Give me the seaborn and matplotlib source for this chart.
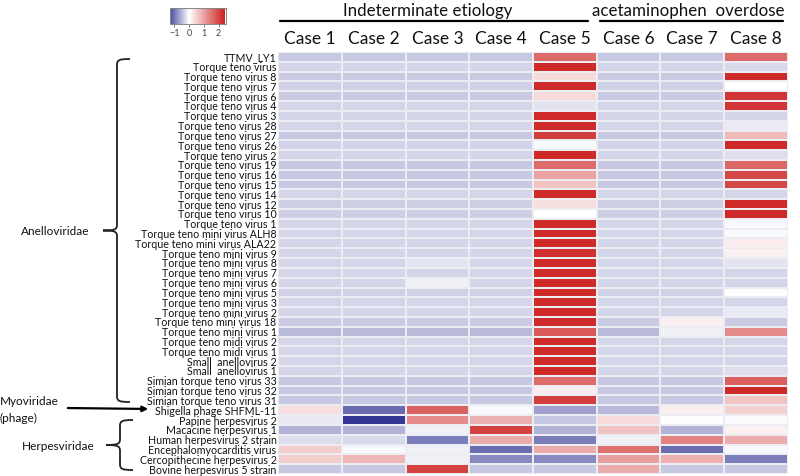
import numpy as np
import pandas as pd
import matplotlib
matplotlib.use('Agg')
import matplotlib.pyplot as plt
from matplotlib.colors import LinearSegmentedColormap
from matplotlib.path import Path
from matplotlib.patches import PathPatch
import seaborn as sns

sns.set_theme(style='white')
plt.rcParams['font.family'] = ['Lato', 'DejaVu Sans']

viruses = [
    'TTMV_LY1', 'Torque teno virus', 'Torque teno virus 8', 'Torque teno virus 7',
    'Torque teno virus 6', 'Torque teno virus 4', 'Torque teno virus 3',
    'Torque teno virus 28', 'Torque teno virus 27', 'Torque teno virus 26',
    'Torque teno virus 2', 'Torque teno virus 19', 'Torque teno virus 16',
    'Torque teno virus 15', 'Torque teno virus 14', 'Torque teno virus 12',
    'Torque teno virus 10', 'Torque teno virus 1', 'Torque teno mini virus ALH8',
    'Torque teno mini virus ALA22', 'Torque teno mini virus 9',
    'Torque teno mini virus 8', 'Torque teno mini virus 7', 'Torque teno mini virus 6',
    'Torque teno mini virus 5', 'Torque teno mini virus 3', 'Torque teno mini virus 2',
    'Torque teno mini virus 18', 'Torque teno mini virus 1', 'Torque teno midi virus 2',
    'Torque teno midi virus 1', 'Small  anellovirus 2', 'Small  anellovirus 1',
    'Simian torque teno virus 33', 'Simian torque teno virus 32',
    'Simian torque teno virus 31', 'Shigella phage SHFML-11', 'Papine herpesvirus 2',
    'Macacine herpesvirus 1', 'Human herpesvirus 2 strain',
    'Encephalomyocarditis virus', 'Cercopithecine herpesvirus 2',
    'Bovine herpesvirus 5 strain',
]
cases = ['Case 1', 'Case 2', 'Case 3', 'Case 4', 'Case 5', 'Case 6', 'Case 7', 'Case 8']

case1 = [-0.4, -0.3, -0.38, -0.33, -0.38, -0.3, -0.3, -0.3, -0.4, -0.32, -0.3, -0.4,
         -0.4, -0.4, -0.3, -0.35, -0.35, -0.3, -0.3, -0.3, -0.3, -0.3, -0.3, -0.3,
         -0.33, -0.3, -0.3, -0.38, -0.5, -0.3, -0.3, -0.3, -0.3, -0.4, -0.4, -0.4,
         0.35, -0.15, -0.55, -0.25, 0.55, 0.55, -0.4]
case2 = [-0.4, -0.3, -0.38, -0.33, -0.38, -0.3, -0.3, -0.3, -0.4, -0.32, -0.3, -0.4,
         -0.4, -0.4, -0.3, -0.35, -0.35, -0.3, -0.3, -0.3, -0.3, -0.3, -0.3, -0.3,
         -0.33, -0.3, -0.3, -0.38, -0.5, -0.3, -0.3, -0.3, -0.3, -0.4, -0.4, -0.4,
         -1.07, -1.45, -0.55, -0.28, -0.05, 0.8, -0.4]
case3 = [-0.4, -0.3, -0.38, -0.33, -0.38, -0.3, -0.3, -0.3, -0.4, -0.32, -0.3, -0.4,
         -0.4, -0.4, -0.3, -0.35, -0.35, -0.3, -0.3, -0.3, -0.3, -0.2, -0.3, -0.1,
         -0.33, -0.3, -0.3, -0.38, -0.5, -0.3, -0.3, -0.3, -0.3, -0.4, -0.4, -0.4,
         1.7, 1.25, -0.1, -0.95, -0.1, -0.1, 2.05]
case4 = [-0.4, -0.3, -0.38, -0.33, -0.38, -0.3, -0.3, -0.3, -0.4, -0.32, -0.3, -0.4,
         -0.4, -0.4, -0.3, -0.35, -0.35, -0.3, -0.3, -0.3, -0.3, -0.3, -0.3, -0.3,
         -0.33, -0.3, -0.3, -0.38, -0.5, -0.3, -0.3, -0.3, -0.3, -0.4, -0.4, -0.4,
         -0.05, 0.85, 2.05, 0.9, -1.05, -0.85, -0.4]
case5 = [1.6, 2.3, 0.4, 2.3, 0.4, -0.2, 2.3, 2.3, 2.1, -0.05, 2.3, 1.6,
         1.0, 0.65, 2.3, 0.35, 0.0, 2.3, 2.3, 2.3, 2.25, 2.3, 2.3, 2.3,
         2.3, 2.3, 2.3, 2.3, 1.8, 2.3, 2.3, 2.3, 2.3, 1.6, 0.2, 2.1,
         -0.68, -0.4, -0.55, -0.95, 0.9, -0.85, -0.4]
case6 = [-0.4, -0.3, -0.38, -0.33, -0.38, -0.3, -0.3, -0.3, -0.4, -0.32, -0.3, -0.4,
         -0.4, -0.4, -0.3, -0.35, -0.35, -0.3, -0.3, -0.3, -0.3, -0.3, -0.3, -0.3,
         -0.33, -0.3, -0.3, -0.38, -0.5, -0.3, -0.3, -0.3, -0.3, -0.4, -0.4, -0.4,
         -0.5, 0.4, 0.65, -0.1, 1.55, 1.05, 0.9]
case7 = [-0.4, -0.3, -0.38, -0.33, -0.38, -0.3, -0.3, -0.3, -0.4, -0.32, -0.3, -0.4,
         -0.4, -0.4, -0.3, -0.35, -0.35, -0.3, -0.3, -0.3, -0.3, -0.3, -0.3, -0.3,
         -0.33, -0.3, -0.3, 0.17, -0.1, -0.3, -0.3, -0.3, -0.3, -0.4, -0.4, -0.4,
         0.18, 0.02, -0.55, 1.35, -1.05, 0.85, -0.4]
case8 = [1.6, -0.28, 2.3, 0.0, 2.2, 2.2, -0.3, -0.15, 0.75, 2.3, -0.25, 1.65,
         2.0, 2.0, -0.3, 2.3, 2.3, -0.05, -0.05, 0.2, 0.15, -0.2, -0.3, -0.3,
         0.03, -0.3, -0.15, -0.38, 1.25, -0.3, -0.3, -0.3, -0.25, 1.7, 2.3, 0.65,
         0.5, -0.03, 0.15, 0.9, -0.05, -0.95, -0.4]

groups = ['Indeterminate etiology', 'acetaminophen  overdose']
cbar_ticks = [-1, 0, 1, 2]

df = pd.DataFrame(dict(zip(cases, [case1, case2, case3, case4, case5, case6, case7, case8])),
                  index=viruses)

vmin, vmax = -1.5, 2.4
cmap = LinearSegmentedColormap.from_list(
    'bwr_custom', [(0.0, '#2e3192'), (-vmin / (vmax - vmin), '#ffffff'), (1.0, '#cc2222')])

fig = plt.figure(figsize=(8, 4.77), dpi=100)
W, H = 800, 477
ax = fig.add_axes([278 / W, 1 - 475 / H, 510 / W, 422 / H])
cax = fig.add_axes([170 / W, 1 - 25 / H, 56 / W, 16 / H])

sns.heatmap(df, ax=ax, cmap=cmap, vmin=vmin, vmax=vmax, cbar_ax=cax,
            cbar_kws={'orientation': 'horizontal', 'ticks': cbar_ticks},
            linewidths=0.2, linecolor='#ececf3', yticklabels=True)

ax.xaxis.tick_top()
ax.set_xticklabels(cases, rotation=0, fontsize=12.5, color='#111111')
ax.set_yticklabels(viruses, fontsize=7.7, color='#111111')
ax.tick_params(axis='both', length=0, pad=1)
ax.tick_params(axis='x', pad=4)
ax.set_xlabel('')
ax.set_ylabel('')

cax.set_xlim(-1.3, 2.5)
cax.tick_params(axis='x', labelsize=6.5, length=2, width=0.5, colors='#444444', pad=1)
for s in cax.spines.values():
    s.set_visible(True)
    s.set_color('#888888')
    s.set_linewidth(0.6)

# overlay in pixel coordinates for headers, braces and arrow
ov = fig.add_axes([0, 0, 1, 1], facecolor='none')
ov.set_xlim(0, W)
ov.set_ylim(H, 0)
ov.axis('off')

ov.text(428, 11, groups[0], ha='center', va='center', fontsize=12.2, color='#111111')
ov.plot([280, 588], [22, 22], color='black', lw=1.6)
ov.text(688, 11, groups[1], ha='center', va='center', fontsize=12.2, color='#111111')
ov.plot([600, 783], [22, 22], color='black', lw=1.6)


def brace(x, y0, y1, hook=13, tip=14, r=6):
    ym = (y0 + y1) / 2
    verts = [(x + hook, y0), (x + 2, y0), (x, y0 + 1), (x, y0 + r),
             (x, ym - r),
             (x, ym - 1), (x - 2, ym), (x - tip, ym),
             (x - 2, ym), (x, ym + 1), (x, ym + r),
             (x, y1 - r),
             (x, y1 - 1), (x + 2, y1), (x + hook, y1)]
    codes = [Path.MOVETO, Path.CURVE4, Path.CURVE4, Path.CURVE4,
             Path.LINETO,
             Path.CURVE4, Path.CURVE4, Path.CURVE4,
             Path.CURVE4, Path.CURVE4, Path.CURVE4,
             Path.LINETO,
             Path.CURVE4, Path.CURVE4, Path.CURVE4]
    ov.add_patch(PathPatch(Path(verts, codes), fill=False, lw=1.3, color='#222222'))


brace(117, 60, 403)
brace(120, 421, 471)

ov.text(55, 232, 'Anelloviridae', ha='center', va='center', fontsize=8.5, color='#111111')
ov.text(58, 447, 'Herpesviridae', ha='center', va='center', fontsize=8.5, color='#111111')
ov.text(0, 402, 'Myoviridae', ha='left', va='center', fontsize=8.5, color='#111111')
ov.text(0, 418, '(phage)', ha='left', va='center', fontsize=8.5, color='#111111')
ov.annotate('', xy=(151, 410), xytext=(65, 409),
            arrowprops=dict(arrowstyle='-|>', color='black', lw=1.6, mutation_scale=8))

fig.savefig('out.png', dpi=100)
